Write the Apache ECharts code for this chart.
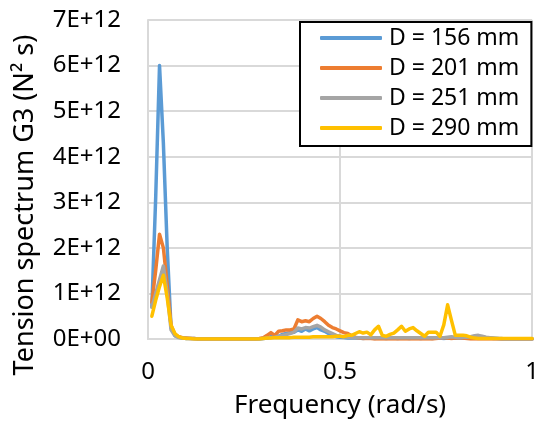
<!DOCTYPE html>
<html>
<head>
<meta charset="utf-8">
<script src="https://cdn.jsdelivr.net/npm/echarts@6/dist/echarts.min.js"></script>
<style>html,body{margin:0;padding:0;background:#fff;}#c{width:542px;height:424px;}</style>
</head>
<body>
<div id="c"></div>
<script>
// Frequency (rad/s)
const freq = [
0.01,0.02,0.03,0.04,0.05,0.06,0.07,0.08,0.09,0.10,
0.11,0.12,0.13,0.14,0.15,0.16,0.17,0.18,0.19,0.20,
0.21,0.22,0.23,0.24,0.25,0.26,0.27,0.28,0.29,0.30,
0.31,0.32,0.33,0.34,0.35,0.36,0.37,0.38,0.39,0.40,
0.41,0.42,0.43,0.44,0.45,0.46,0.47,0.48,0.49,0.50,
0.51,0.52,0.53,0.54,0.55,0.56,0.57,0.58,0.59,0.60,
0.61,0.62,0.63,0.64,0.65,0.66,0.67,0.68,0.69,0.70,
0.71,0.72,0.73,0.74,0.75,0.76,0.77,0.78,0.79,0.80,
0.81,0.82,0.83,0.84,0.85,0.86,0.87,0.88,0.89,0.90,
0.91,0.92,0.93,0.94,0.95,0.96,0.97,0.98,0.99,1.00];

// Tension spectrum values in units of 1E+12 N^2 s
const d156 = [
0.7,3.1,6.0,4.3,2.0,0.25,0.08,0.04,0.02,0.01,
0.01,0.01,0,0,0,0,0,0,0,0,
0,0,0,0,0,0,0,0,0,0.01,
0.02,0.05,0.07,0.06,0.10,0.12,0.14,0.15,0.20,0.17,
0.22,0.18,0.22,0.25,0.20,0.17,0.12,0.08,0.05,0.04,
0.03,0.02,0.02,0.02,0.02,0.01,0.02,0.02,0.01,0.02,
0.02,0.01,0.02,0.02,0.01,0.02,0.02,0.01,0.02,0.02,
0.01,0.02,0.02,0.01,0.02,0.02,0.01,0.02,0.02,0.02,
0.02,0.02,0.03,0.03,0.04,0.05,0.04,0.03,0.02,0.01,
0.01,0,0,0,0,0,0,0,0,0];

const d201 = [
0.8,1.5,2.3,2.0,1.2,0.3,0.1,0.05,0.03,0.02,
0.01,0.01,0,0,0,0,0,0,0,0,
0,0,0,0,0,0,0,0,0.01,0.03,
0.08,0.14,0.08,0.17,0.18,0.20,0.20,0.22,0.42,0.38,
0.40,0.38,0.45,0.50,0.45,0.38,0.30,0.25,0.22,0.18,
0.14,0.12,0.07,0.04,0.02,0.01,0.01,0.01,0,0,
0,0,0,0,0,0,0,0,0,0,
0,0,0,0,0.01,0.02,0.03,0.02,0.01,0.02,
0.03,0.02,0.01,0,0,0,0,0,0,0,
0,0,0,0,0,0,0,0,0,0];

const d251 = [
0.7,1.0,1.3,1.6,1.0,0.2,0.07,0.03,0.02,0.01,
0.01,0,0,0,0,0,0,0,0,0,
0,0,0,0,0,0,0,0,0,0.01,
0.02,0.03,0.04,0.06,0.08,0.10,0.12,0.15,0.24,0.22,
0.25,0.24,0.27,0.30,0.26,0.20,0.16,0.12,0.08,0.06,
0.05,0.04,0.03,0.03,0.03,0.03,0.03,0.03,0.03,0.03,
0.03,0.03,0.03,0.03,0.03,0.03,0.03,0.03,0.03,0.03,
0.03,0.03,0.03,0.03,0.03,0.03,0.03,0.04,0.05,0.04,
0.04,0.04,0.04,0.05,0.07,0.08,0.06,0.04,0.03,0.02,
0.01,0.01,0,0,0,0,0,0,0,0];

const d290 = [
0.5,0.85,1.15,1.4,0.9,0.3,0.12,0.05,0.02,0.01,
0.01,0,0,0,0,0,0,0,0,0,
0,0,0,0,0,0,0,0,0,0.01,
0.02,0.02,0.03,0.03,0.03,0.03,0.03,0.04,0.04,0.04,
0.04,0.04,0.05,0.05,0.05,0.05,0.05,0.05,0.06,0.06,
0.05,0.08,0.08,0.12,0.16,0.13,0.15,0.09,0.20,0.28,
0.08,0.06,0.10,0.13,0.20,0.28,0.17,0.22,0.25,0.18,
0.12,0.06,0.15,0.15,0.15,0.06,0.31,0.75,0.41,0.08,
0.08,0.08,0.07,0.04,0.02,0.01,0.01,0.01,0.01,0.01,
0.01,0.01,0.01,0.01,0.01,0.01,0.01,0.01,0.01,0.01];

const seriesNames = ['D = 156 mm','D = 201 mm','D = 251 mm','D = 290 mm'];
const seriesColors = ['#5B9BD5','#ED7D31','#A5A5A5','#FFC000'];
const seriesValues = [d156, d201, d251, d290];

const FONT = 'Noto Sans';
const chart = echarts.init(document.getElementById('c'), null, {renderer:'canvas'});
const gridColor = '#d9d9d9';

chart.setOption({
  animation: false,
  backgroundColor: '#fff',
  textStyle: {fontFamily: FONT},
  grid: {left: 148, right: 5, top: 20, bottom: 83, containLabel: false},
  legend: {
    orient: 'vertical',
    left: 300, top: 22, width: 233,
    padding: [1, 12, 3, 20],
    itemGap: 0,
    itemWidth: 62, itemHeight: 4,
    icon: 'roundRect',
    backgroundColor: '#fff',
    borderColor: '#000', borderWidth: 2,
    textStyle: {fontFamily: FONT, fontSize: 23, color: '#000', lineHeight: 30, padding: [0,0,0,2]},
    data: seriesNames
  },
  xAxis: {
    type: 'value', min: 0, max: 1, interval: 0.5,
    name: 'Frequency (rad/s)', nameLocation: 'middle', nameGap: 54,
    nameTextStyle: {fontFamily: FONT, fontSize: 26, color: '#000'},
    axisLine: {show: true, lineStyle: {color: gridColor, width: 2}},
    axisTick: {show: false},
    axisLabel: {fontFamily: FONT, fontSize: 24, color: '#000', margin: 21,
      formatter: v => String(v)},
    splitLine: {show: true, lineStyle: {color: gridColor, width: 2}}
  },
  yAxis: {
    type: 'value', min: 0, max: 7, interval: 1,
    axisLine: {show: true, lineStyle: {color: gridColor, width: 2}},
    axisTick: {show: false},
    axisLabel: {fontFamily: FONT, fontSize: 24, color: '#000', margin: 27,
      formatter: v => v === 0 ? '0E+00' : v + 'E+12'},
    splitLine: {show: true, lineStyle: {color: gridColor, width: 2}}
  },
  graphic: [{
    type: 'text',
    x: 25, y: 205,
    rotation: Math.PI / 2,
    style: {text: 'Tension spectrum G3 (N\u00B2 s)', fontFamily: FONT, fontSize: 27,
      fill: '#000', align: 'center', verticalAlign: 'middle'}
  }],
  series: seriesNames.map((n, i) => ({
    name: n, type: 'line', showSymbol: false, symbol: 'none',
    color: seriesColors[i],
    lineStyle: {width: 3.5, color: seriesColors[i], join: 'round', cap: 'round'},
    data: freq.map((f, k) => [f, seriesValues[i][k]]),
    z: 2 + i
  }))
});
</script>
</body>
</html>
